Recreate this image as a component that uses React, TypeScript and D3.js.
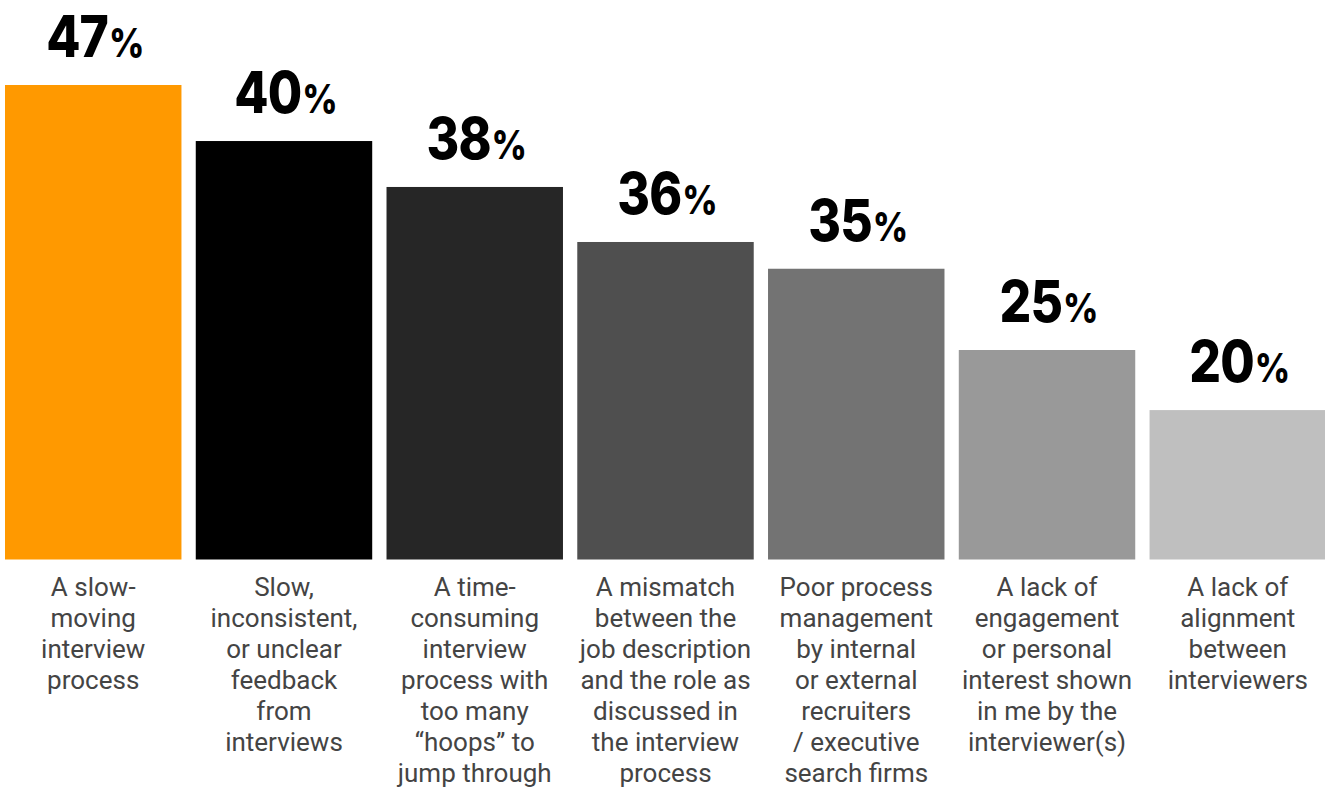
import React from "react";
import * as d3 from "d3";

const categories = [
  "slow-moving",
  "unclear-feedback",
  "too-many-hoops",
  "job-mismatch",
  "poor-process-management",
  "lack-of-engagement",
  "lack-of-alignment",
];

const categoryLines = [
  ["A slow-", "moving", "interview", "process"],
  ["Slow,", "inconsistent,", "or unclear", "feedback", "from", "interviews"],
  ["A time-", "consuming", "interview", "process with", "too many", "\u201choops\u201d to", "jump through"],
  ["A mismatch", "between the", "job description", "and the role as", "discussed in", "the interview", "process"],
  ["Poor process", "management", "by internal", "or external", "recruiters", "/ executive", "search firms"],
  ["A lack of", "engagement", "or personal", "interest shown", "in me by the", "interviewer(s)"],
  ["A lack of", "alignment", "between", "interviewers"],
];

// Labelled percentages
const labelValues = [47, 40, 38, 36, 35, 25, 20];
// Bar lengths as drawn in the picture (same units as the axis, 0..47)
const barValues = [47, 41.45, 36.9, 31.45, 28.8, 20.75, 14.8];

const barColors = ["#FF9900", "#000000", "#262626", "#4F4F4F", "#737373", "#999999", "#BFBFBF"];

const W = 1325;
const H = 792;

export default function App() {
  const x = d3
    .scaleBand<string>()
    .domain(categories)
    .range([5, 1326])
    .paddingInner(0.075)
    .paddingOuter(0);

  const y = d3.scaleLinear().domain([0, 47]).range([559.5, 85]);

  return (
    <svg
      width={W}
      height={H}
      style={{ position: "absolute", left: 0, top: 0, background: "#fff" }}
    >
      {categories.map((c, i) => {
        const x0 = x(c) as number;
        const bw = x.bandwidth();
        const cx = x0 + bw / 2;
        const top = y(barValues[i]);
        return (
          <g key={c}>
            <rect x={x0} y={top} width={bw} height={y(0) - top} fill={barColors[i]} />
            <g transform={`translate(${cx + 2},${top - 28}) scale(0.86,1)`}>
              <text
                x={0}
                y={0}
                textAnchor="middle"
                fontFamily="Inter, 'Open Sans', sans-serif"
                fontWeight={800}
                fill="#000"
              >
                <tspan fontSize={58} letterSpacing={-1}>{labelValues[i]}</tspan>
                <tspan fontSize={40} dx={1}>%</tspan>
              </text>
            </g>
            <text
              textAnchor="middle"
              fontFamily="Roboto, sans-serif"
              fontSize={26}
              fill="#444444"
            >
              {categoryLines[i].map((l, j) => (
                <tspan key={j} x={cx} y={596 + j * 31}>
                  {l}
                </tspan>
              ))}
            </text>
          </g>
        );
      })}
    </svg>
  );
}
